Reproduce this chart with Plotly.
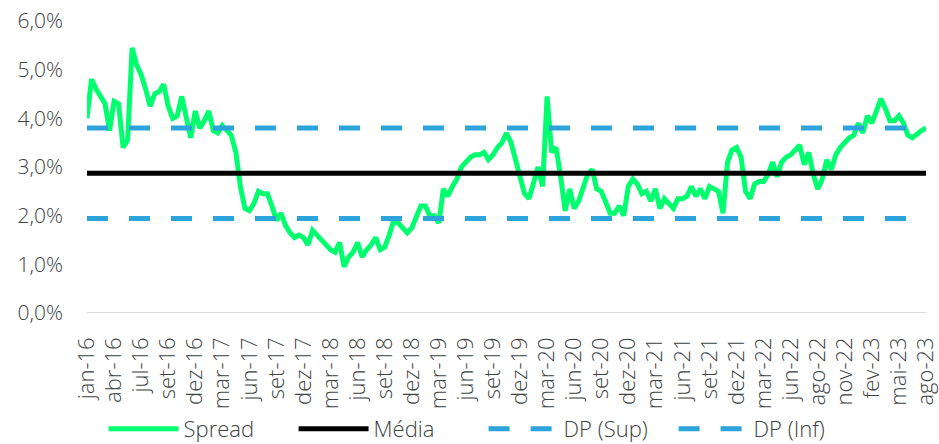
import plotly.graph_objects as go

# X-axis labels (one every 6 samples)
x_labels = ["jan-16", "abr-16", "jul-16", "set-16", "dez-16", "mar-17", "jun-17", "set-17",
            "dez-17", "mar-18", "jun-18", "set-18", "dez-18", "mar-19", "jun-19", "set-19",
            "dez-19", "mar-20", "jun-20", "set-20", "dez-20", "mar-21", "jun-21", "set-21",
            "dez-21", "mar-22", "jun-22", "ago-22", "nov-22", "fev-23", "mai-23", "ago-23"]

# Spread (%), 6 samples per label interval
spread = [
    4.0, 4.8, 4.6, 4.45, 4.3, 3.75,
    4.35, 4.3, 3.4, 3.55, 5.45, 5.1,
    4.9, 4.6, 4.25, 4.5, 4.55, 4.7,
    4.25, 4.0, 4.05, 4.45, 4.05, 3.6,
    4.15, 3.8, 3.95, 4.15, 3.75, 3.7,
    3.85, 3.75, 3.65, 3.3, 2.6, 2.15,
    2.1, 2.25, 2.5, 2.45, 2.45, 2.2,
    1.9, 2.05, 1.8, 1.65, 1.55, 1.6,
    1.55, 1.4, 1.7, 1.6, 1.5, 1.4,
    1.3, 1.25, 1.45, 0.95, 1.15, 1.25,
    1.45, 1.15, 1.3, 1.4, 1.55, 1.3,
    1.35, 1.6, 1.9, 1.85, 1.75, 1.65,
    1.75, 1.95, 2.2, 2.2, 2.0, 2.0,
    1.85, 2.55, 2.4, 2.6, 2.75, 3.0,
    3.1, 3.2, 3.25, 3.25, 3.3, 3.15,
    3.25, 3.4, 3.5, 3.7, 3.5, 3.15,
    2.9, 2.45, 2.35, 2.7, 3.0, 2.6,
    4.45, 3.3, 3.4, 2.8, 2.1, 2.55,
    2.15, 2.3, 2.55, 2.85, 2.95, 2.55,
    2.5, 2.25, 2.05, 2.05, 2.2, 2.0,
    2.6, 2.75, 2.65, 2.45, 2.5, 2.3,
    2.55, 2.15, 2.35, 2.25, 2.15, 2.35,
    2.35, 2.4, 2.6, 2.4, 2.55, 2.35,
    2.6, 2.55, 2.5, 2.05, 3.1, 3.35,
    3.4, 3.2, 2.5, 2.35, 2.65, 2.7,
    2.7, 2.85, 3.1, 2.8, 3.1, 3.2,
    3.25, 3.35, 3.45, 3.05, 3.3, 2.85,
    2.55, 2.75, 3.15, 2.95, 3.25, 3.4,
    3.5, 3.6, 3.65, 3.9, 3.7, 4.05,
    3.9, 4.15, 4.4, 4.2, 3.95, 3.95,
    4.05, 3.9, 3.65, 3.6, 3.68, 3.75, 3.8,
]

media_value = 2.87
dp_sup_value = 3.80
dp_inf_value = 1.94

y_tickvals = [0, 1, 2, 3, 4, 5, 6]
y_ticktext = ["0,0%", "1,0%", "2,0%", "3,0%", "4,0%", "5,0%", "6,0%"]

n = len(spread)
x = list(range(n))
media = [media_value] * n
dp_sup = [dp_sup_value] * n
dp_inf = [dp_inf_value] * n
label_step = 6
x_tickvals = [i * label_step for i in range(len(x_labels))]

FONT = "Open Sans"
TXT = "#3C423F"

fig = go.Figure()
fig.add_trace(go.Scatter(x=x, y=spread, mode="lines", name="Spread",
                         line=dict(color="#00FF6E", width=5)))
fig.add_trace(go.Scatter(x=x, y=media, mode="lines", name="Média",
                         line=dict(color="#000000", width=5)))
fig.add_trace(go.Scatter(x=x, y=dp_sup, mode="lines", name="DP (Sup)",
                         line=dict(color="#2CA3DA", width=5, dash="21px,21px")))
fig.add_trace(go.Scatter(x=x, y=dp_inf, mode="lines", name="DP (Inf)",
                         line=dict(color="#2CA3DA", width=5, dash="21px,21px")))

fig.update_layout(
    width=939, height=444,
    margin=dict(l=87, r=13, t=21, b=131, autoexpand=False),
    paper_bgcolor="white", plot_bgcolor="white",
    font=dict(family=FONT, size=21, color=TXT, weight=300),
    showlegend=True,
    legend=dict(orientation="h", xref="container", yref="container",
                x=0.515, xanchor="center", y=0.034, yanchor="middle",
                itemwidth=70, entrywidth=105, entrywidthmode="pixels",
                font=dict(family=FONT, size=22, color=TXT, weight=300),
                bgcolor="rgba(0,0,0,0)"),
)
fig.update_xaxes(range=[-0.001, n - 1 + 0.001], tickmode="array", tickvals=x_tickvals,
                 ticktext=x_labels, tickangle=-90, showgrid=False, zeroline=False,
                 showline=False, ticks="", ticklabelstandoff=19, automargin=False,
                 ticklabeloverflow="allow",
                 tickfont=dict(family=FONT, size=22, color=TXT, weight=300))
fig.update_yaxes(range=[0, 6], tickmode="array", tickvals=y_tickvals, ticktext=y_ticktext,
                 showgrid=False, zeroline=False, showline=False, ticks="",
                 ticklabelstandoff=23, automargin=False,
                 tickfont=dict(family=FONT, size=21, color=TXT, weight=300))
# bottom axis line at 0
fig.add_shape(type="line", xref="x", yref="y", x0=0, x1=n - 1, y0=0, y1=0,
              line=dict(color="#D9D9D9", width=2), layer="below")

fig.write_html(
    "out.html",
    config={"displayModeBar": False},
    post_script="document.body.style.margin='0';document.body.style.overflow='hidden';",
)
